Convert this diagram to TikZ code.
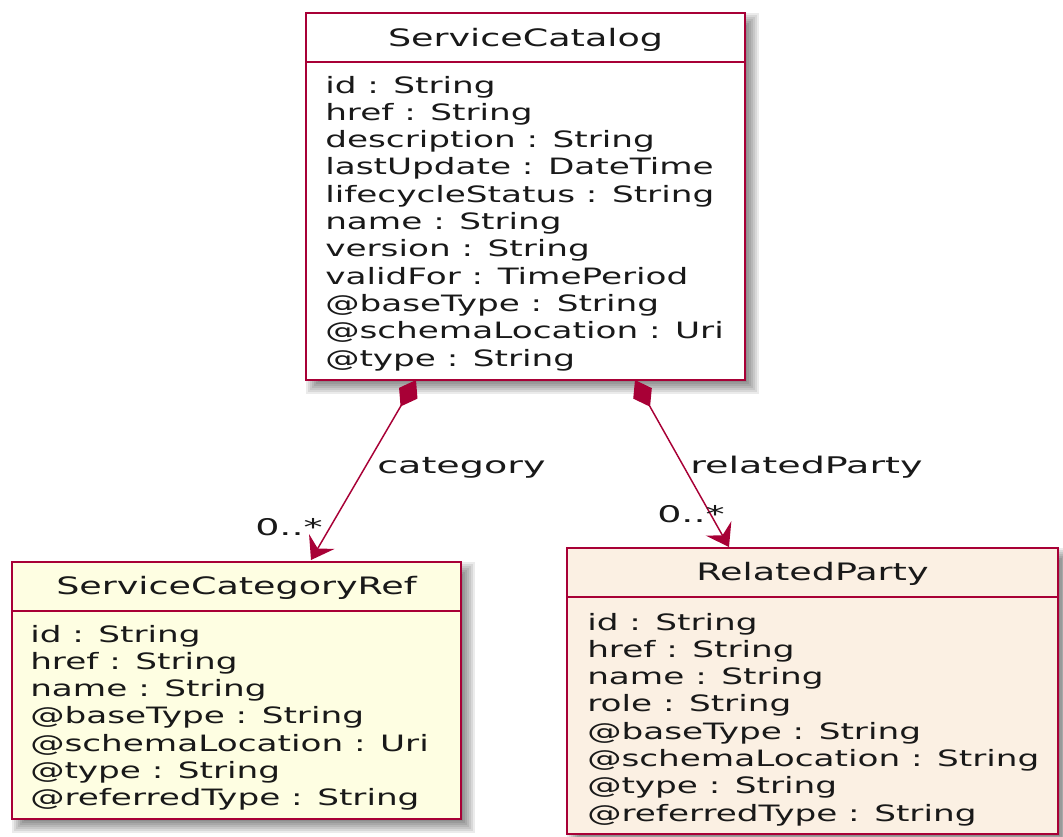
\documentclass[tikz,border=0pt]{standalone}
\usepackage{fontspec}
\newfontfamily\attrfont[FakeStretch=1.52]{DejaVu Sans}
\newfontfamily\lblfont[FakeStretch=1.66]{DejaVu Sans}
\usetikzlibrary{arrows.meta,calc}
\definecolor{umlred}{HTML}{A80036}
\definecolor{umlyellow}{HTML}{FEFEE2}
\definecolor{umllinen}{HTML}{FBF0E3}
\tikzset{
  boxstyle/.style={draw=umlred, line width=1.5pt, rectangle, inner sep=0pt, outer sep=0pt},
  boxline/.style={draw=umlred, line width=1.5pt},
  attr/.style={anchor=base west, inner sep=0pt, text=black!90, font=\attrfont\fontsize{16.9pt}{20pt}\selectfont},
  hdr/.style={anchor=base, inner sep=0pt, text=black!90, font=\attrfont\fontsize{18pt}{22pt}\selectfont},
  lbl/.style={anchor=base west, inner sep=0pt, text=black!90, font=\lblfont\fontsize{17.2pt}{21pt}\selectfont},
  conn/.style={draw=umlred, line width=1.1pt,
    {Diamond[length=23pt,width=16pt,fill=umlred]}-{Stealth[length=16pt,width=22pt,inset=6pt,fill=umlred]}}
}
\newcommand\umlbox[7]{%
  \foreach \d in {0,2,4,6,8,10,12}{\fill[black,opacity=0.08] (#2+\d,#3+\d) rectangle (#4+14-\d,#5+14-\d);}
  \node[boxstyle, fill=#7, anchor=north west, minimum width={(#4-#2)*0.75pt}, minimum height={(#5-#3)*0.75pt}] (#1) at (#2,#3) {};
  \draw[boxline] (#2,#6) -- (#4,#6);
}
\begin{document}
\begin{tikzpicture}[x=0.75pt,y=-0.75pt]
\useasboundingbox (0,0) rectangle (1063,836);
\fill[white] (0,0) rectangle (1063,836);
% boxes
\umlbox{sc}{306}{13}{745}{380}{62}{white}
\umlbox{scr}{12}{562}{461}{819}{611}{umlyellow}
\umlbox{rp}{567}{548}{1058}{834}{597}{umllinen}
% headers
\node[hdr] (hsc) at ($(sc.north)+(0,33)$) {ServiceCatalog};
\node[hdr] (hscr) at ($(scr.north)+(0,32)$) {ServiceCategoryRef};
\node[hdr] (hrp) at ($(rp.north)+(0,32)$) {RelatedParty};
% attributes
\foreach \t [count=\i from 0] in {id : String, href : String, description : String, lastUpdate : DateTime, lifecycleStatus : String, name : String, version : String, validFor : TimePeriod, @baseType : String, @schemaLocation : Uri, @type : String}
  \node[attr] (asc\i) at (325,93+27.3*\i) {\t};
\foreach \t [count=\i from 0] in {id : String, href : String, name : String, @baseType : String, @schemaLocation : Uri, @type : String, @referredType : String}
  \node[attr] (ascr\i) at (30,642+27.3*\i) {\t};
\foreach \t [count=\i from 0] in {id : String, href : String, name : String, role : String, @baseType : String, @schemaLocation : String, @type : String, @referredType : String}
  \node[attr] (arp\i) at (587,630+27.3*\i) {\t};
% connectors
\coordinate (s1) at ($(sc.south west)+(110,0)$);
\coordinate (e1) at ($(scr.north west)+(299,-2)$);
\coordinate (s2) at ($(sc.south west)+(329,0)$);
\coordinate (e2) at ($(rp.north west)+(162,-1)$);
\draw[conn] (s1) -- (e1);
\draw[conn] (s2) -- (e2);
% labels
\node[lbl] (lcat) at (377,473) {category};
\node[lbl] (lrp) at (690,473) {relatedParty};
\node[lbl] (m1) at (255,535) {0..*};
\node[lbl] (m2) at (657,522) {0..*};
\end{tikzpicture}
\end{document}
